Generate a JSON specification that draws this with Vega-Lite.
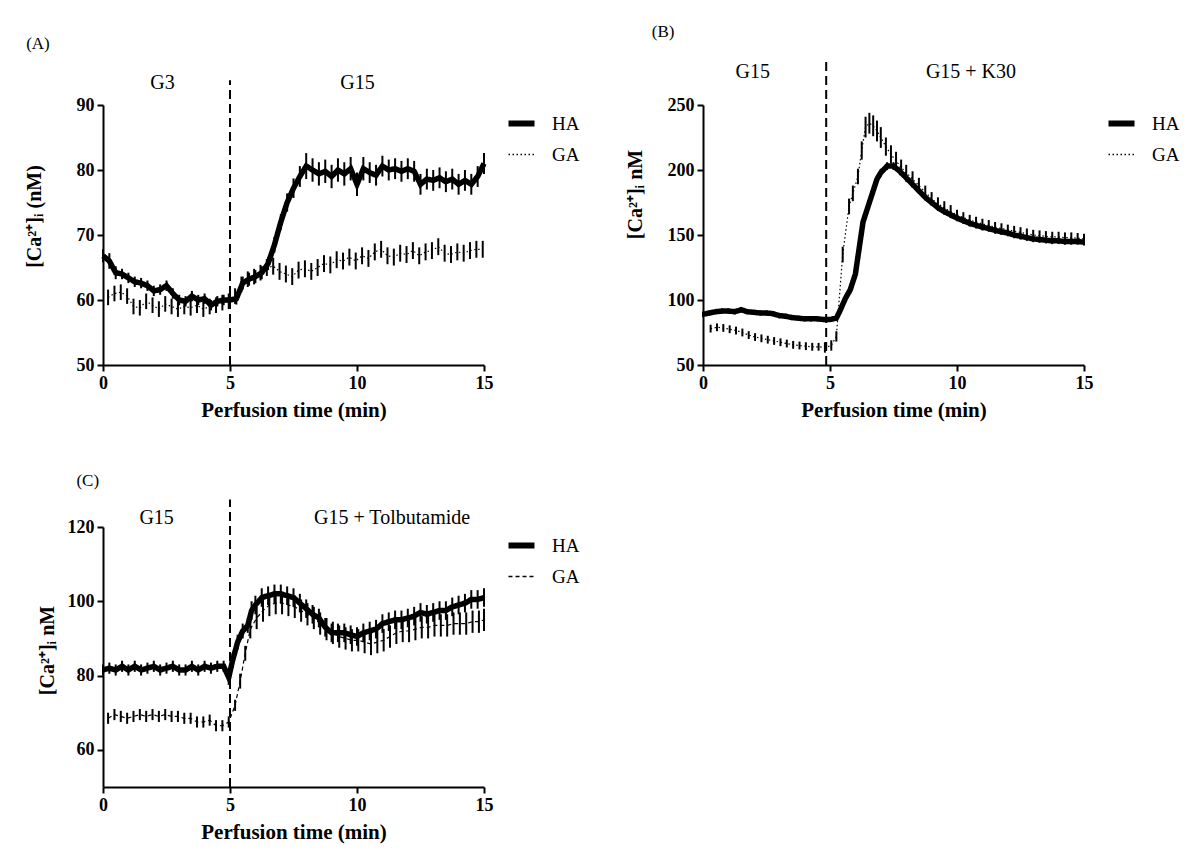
{
  "$schema": "https://vega.github.io/schema/vega-lite/v6.json",
  "background": "white",
  "padding": {"left": 24, "top": 23, "right": 5, "bottom": 5},
  "config": {
    "view": {"stroke": null},
    "font": "Liberation Serif",
    "axis": {"domainColor": "black", "domainWidth": 2, "tickColor": "black", "tickWidth": 2, "tickSize": 6, "labelFont": "Liberation Serif", "labelFontSize": 18, "labelFontWeight": "bold", "labelColor": "black", "labelPadding": 3, "labelFlush": false, "titleFont": "Liberation Serif", "titleFontSize": 21, "titleFontWeight": "bold", "titleColor": "black", "grid": false},
    "axisY": {"titleFontSize": 20},
    "text": {"font": "Liberation Serif", "fontSize": 20, "color": "black"},
    "legend": {"orient": "none", "legendX": 409, "legendY": 9, "symbolType": "stroke", "symbolSize": 676, "symbolStrokeColor": "black", "symbolStrokeWidth": 1.5, "labelFont": "Liberation Serif", "labelFontSize": 19, "labelColor": "black", "labelOffset": 21, "rowPadding": 9}
  },
  "datasets": {
    "A": [
      {"s":"HA","t":0,"m":66.8,"e":1.0},{"s":"HA","t":0.25,"m":66.0,"e":1.2},{"s":"HA","t":0.5,"m":64.2,"e":1.0},{"s":"HA","t":0.75,"m":64.0,"e":0.8},{"s":"HA","t":1,"m":63.4,"e":0.8},{"s":"HA","t":1.25,"m":62.8,"e":0.8},{"s":"HA","t":1.5,"m":62.6,"e":0.8},{"s":"HA","t":1.75,"m":62.2,"e":0.8},{"s":"HA","t":2,"m":61.4,"e":0.8},{"s":"HA","t":2.25,"m":61.6,"e":0.8},{"s":"HA","t":2.5,"m":62.2,"e":0.8},{"s":"HA","t":2.75,"m":61.0,"e":0.8},{"s":"HA","t":3,"m":60.0,"e":0.8},{"s":"HA","t":3.25,"m":59.8,"e":0.8},{"s":"HA","t":3.5,"m":60.6,"e":0.8},{"s":"HA","t":3.75,"m":60.0,"e":0.8},{"s":"HA","t":4,"m":60.2,"e":0.8},{"s":"HA","t":4.25,"m":59.2,"e":0.8},{"s":"HA","t":4.5,"m":59.8,"e":0.8},{"s":"HA","t":4.75,"m":60.0,"e":0.8},{"s":"HA","t":5,"m":60.0,"e":0.9},{"s":"HA","t":5.25,"m":60.2,"e":0.9},{"s":"HA","t":5.5,"m":62.6,"e":1.0},{"s":"HA","t":5.75,"m":63.2,"e":1.0},{"s":"HA","t":6,"m":63.6,"e":1.0},{"s":"HA","t":6.25,"m":64.2,"e":1.0},{"s":"HA","t":6.5,"m":65.6,"e":1.0},{"s":"HA","t":6.75,"m":68.5,"e":1.2},{"s":"HA","t":7,"m":72.0,"e":1.2},{"s":"HA","t":7.25,"m":75.0,"e":1.4},{"s":"HA","t":7.5,"m":77.2,"e":1.5},{"s":"HA","t":7.75,"m":79.0,"e":1.6},{"s":"HA","t":8,"m":80.6,"e":2.0},{"s":"HA","t":8.25,"m":80.0,"e":1.8},{"s":"HA","t":8.5,"m":79.4,"e":1.8},{"s":"HA","t":8.75,"m":79.8,"e":1.8},{"s":"HA","t":9,"m":79.0,"e":1.8},{"s":"HA","t":9.25,"m":80.0,"e":1.8},{"s":"HA","t":9.5,"m":79.4,"e":1.8},{"s":"HA","t":9.75,"m":80.2,"e":1.8},{"s":"HA","t":10,"m":77.8,"e":1.8},{"s":"HA","t":10.25,"m":80.2,"e":1.8},{"s":"HA","t":10.5,"m":79.6,"e":1.6},{"s":"HA","t":10.75,"m":79.2,"e":1.6},{"s":"HA","t":11,"m":80.6,"e":1.6},{"s":"HA","t":11.25,"m":80.0,"e":1.6},{"s":"HA","t":11.5,"m":80.2,"e":1.6},{"s":"HA","t":11.75,"m":79.8,"e":1.6},{"s":"HA","t":12,"m":80.2,"e":1.6},{"s":"HA","t":12.25,"m":79.8,"e":1.6},{"s":"HA","t":12.5,"m":77.8,"e":1.6},{"s":"HA","t":12.75,"m":78.6,"e":1.6},{"s":"HA","t":13,"m":78.4,"e":1.6},{"s":"HA","t":13.25,"m":78.8,"e":1.6},{"s":"HA","t":13.5,"m":78.2,"e":1.6},{"s":"HA","t":13.75,"m":78.6,"e":1.6},{"s":"HA","t":14,"m":77.8,"e":1.6},{"s":"HA","t":14.25,"m":78.4,"e":1.6},{"s":"HA","t":14.5,"m":77.8,"e":1.6},{"s":"HA","t":14.75,"m":79.0,"e":1.6},{"s":"HA","t":15,"m":81.0,"e":1.6},
      {"s":"GA","t":0.2,"m":60.4,"e":1.2},{"s":"GA","t":0.45,"m":61.0,"e":1.2},{"s":"GA","t":0.7,"m":61.2,"e":1.2},{"s":"GA","t":0.95,"m":60.6,"e":1.2},{"s":"GA","t":1.2,"m":59.0,"e":1.2},{"s":"GA","t":1.45,"m":58.8,"e":1.2},{"s":"GA","t":1.7,"m":59.8,"e":1.2},{"s":"GA","t":1.95,"m":59.2,"e":1.2},{"s":"GA","t":2.2,"m":58.6,"e":1.2},{"s":"GA","t":2.45,"m":59.4,"e":1.2},{"s":"GA","t":2.7,"m":59.0,"e":1.2},{"s":"GA","t":2.95,"m":58.6,"e":1.2},{"s":"GA","t":3.2,"m":59.0,"e":1.2},{"s":"GA","t":3.45,"m":58.8,"e":1.2},{"s":"GA","t":3.7,"m":59.2,"e":1.2},{"s":"GA","t":3.95,"m":58.6,"e":1.2},{"s":"GA","t":4.2,"m":59.0,"e":1.2},{"s":"GA","t":4.45,"m":59.2,"e":1.2},{"s":"GA","t":4.7,"m":59.6,"e":1.2},{"s":"GA","t":4.95,"m":59.8,"e":1.2},{"s":"GA","t":5.2,"m":60.6,"e":1.2},{"s":"GA","t":5.45,"m":62.4,"e":1.2},{"s":"GA","t":5.7,"m":63.2,"e":1.2},{"s":"GA","t":5.95,"m":63.6,"e":1.2},{"s":"GA","t":6.2,"m":64.2,"e":1.2},{"s":"GA","t":6.45,"m":65.0,"e":1.3},{"s":"GA","t":6.7,"m":65.2,"e":1.3},{"s":"GA","t":6.95,"m":64.4,"e":1.3},{"s":"GA","t":7.2,"m":64.0,"e":1.3},{"s":"GA","t":7.45,"m":63.6,"e":1.3},{"s":"GA","t":7.7,"m":64.6,"e":1.3},{"s":"GA","t":7.95,"m":64.8,"e":1.3},{"s":"GA","t":8.2,"m":64.4,"e":1.3},{"s":"GA","t":8.45,"m":65.0,"e":1.3},{"s":"GA","t":8.7,"m":65.6,"e":1.3},{"s":"GA","t":8.95,"m":65.4,"e":1.3},{"s":"GA","t":9.2,"m":66.2,"e":1.3},{"s":"GA","t":9.45,"m":66.0,"e":1.3},{"s":"GA","t":9.7,"m":66.6,"e":1.3},{"s":"GA","t":9.95,"m":66.0,"e":1.3},{"s":"GA","t":10.2,"m":66.8,"e":1.3},{"s":"GA","t":10.45,"m":66.4,"e":1.3},{"s":"GA","t":10.7,"m":67.4,"e":1.3},{"s":"GA","t":10.95,"m":67.8,"e":1.3},{"s":"GA","t":11.2,"m":66.8,"e":1.3},{"s":"GA","t":11.45,"m":66.6,"e":1.3},{"s":"GA","t":11.7,"m":67.2,"e":1.3},{"s":"GA","t":11.95,"m":67.0,"e":1.3},{"s":"GA","t":12.2,"m":67.6,"e":1.3},{"s":"GA","t":12.45,"m":66.8,"e":1.3},{"s":"GA","t":12.7,"m":67.4,"e":1.3},{"s":"GA","t":12.95,"m":67.6,"e":1.3},{"s":"GA","t":13.2,"m":68.2,"e":1.3},{"s":"GA","t":13.45,"m":67.2,"e":1.3},{"s":"GA","t":13.7,"m":67.0,"e":1.3},{"s":"GA","t":13.95,"m":67.4,"e":1.3},{"s":"GA","t":14.2,"m":67.2,"e":1.3},{"s":"GA","t":14.45,"m":67.6,"e":1.3},{"s":"GA","t":14.7,"m":67.8,"e":1.3},{"s":"GA","t":14.95,"m":67.8,"e":1.3}
    ],
    "B": [
      {"s":"HA","t":0,"m":89,"e":2},{"s":"HA","t":0.25,"m":90,"e":2},{"s":"HA","t":0.5,"m":91,"e":2},{"s":"HA","t":0.75,"m":91.5,"e":2},{"s":"HA","t":1,"m":91.5,"e":2},{"s":"HA","t":1.25,"m":91,"e":2},{"s":"HA","t":1.5,"m":92.5,"e":2},{"s":"HA","t":1.75,"m":91,"e":2},{"s":"HA","t":2,"m":90.5,"e":2},{"s":"HA","t":2.25,"m":90,"e":2},{"s":"HA","t":2.5,"m":90,"e":2},{"s":"HA","t":2.75,"m":89.5,"e":2},{"s":"HA","t":3,"m":88,"e":2},{"s":"HA","t":3.25,"m":87.5,"e":2},{"s":"HA","t":3.5,"m":86.5,"e":2},{"s":"HA","t":3.75,"m":86,"e":2},{"s":"HA","t":4,"m":85.5,"e":2},{"s":"HA","t":4.25,"m":85.5,"e":2},{"s":"HA","t":4.5,"m":85.5,"e":2},{"s":"HA","t":4.75,"m":85,"e":2},{"s":"HA","t":5,"m":85,"e":2},{"s":"HA","t":5.25,"m":86,"e":2},{"s":"HA","t":5.4,"m":92,"e":3},{"s":"HA","t":5.6,"m":101,"e":3},{"s":"HA","t":5.8,"m":108,"e":3},{"s":"HA","t":6,"m":120,"e":3},{"s":"HA","t":6.15,"m":140,"e":3},{"s":"HA","t":6.3,"m":160,"e":3},{"s":"HA","t":6.45,"m":169,"e":3},{"s":"HA","t":6.6,"m":178,"e":3},{"s":"HA","t":6.85,"m":193,"e":3},{"s":"HA","t":7,"m":198,"e":3},{"s":"HA","t":7.25,"m":203,"e":3},{"s":"HA","t":7.5,"m":203,"e":3},{"s":"HA","t":7.75,"m":199,"e":3},{"s":"HA","t":8,"m":194,"e":3},{"s":"HA","t":8.25,"m":189,"e":2.5},{"s":"HA","t":8.5,"m":184,"e":2.5},{"s":"HA","t":8.75,"m":179,"e":2.5},{"s":"HA","t":9,"m":175,"e":2.5},{"s":"HA","t":9.25,"m":171,"e":2.5},{"s":"HA","t":9.5,"m":168,"e":2.5},{"s":"HA","t":9.75,"m":165.5,"e":2.5},{"s":"HA","t":10,"m":163,"e":2.5},{"s":"HA","t":10.25,"m":161,"e":2.5},{"s":"HA","t":10.5,"m":159,"e":2.5},{"s":"HA","t":10.75,"m":157.5,"e":2.5},{"s":"HA","t":11,"m":156,"e":2.5},{"s":"HA","t":11.25,"m":155,"e":2.5},{"s":"HA","t":11.5,"m":153.5,"e":2.5},{"s":"HA","t":11.75,"m":152.5,"e":2.5},{"s":"HA","t":12,"m":151.5,"e":2.5},{"s":"HA","t":12.25,"m":150,"e":2.5},{"s":"HA","t":12.5,"m":149,"e":2.5},{"s":"HA","t":12.75,"m":148,"e":2.5},{"s":"HA","t":13,"m":147,"e":2.5},{"s":"HA","t":13.25,"m":146.5,"e":2.5},{"s":"HA","t":13.5,"m":146,"e":2.5},{"s":"HA","t":13.75,"m":145.5,"e":2.5},{"s":"HA","t":14,"m":145.5,"e":2.5},{"s":"HA","t":14.25,"m":145,"e":2.5},{"s":"HA","t":14.5,"m":145,"e":2.5},{"s":"HA","t":14.75,"m":145,"e":2.5},{"s":"HA","t":15,"m":144.5,"e":2.5},
      {"s":"GA","t":0.3,"m":78,"e":3},{"s":"GA","t":0.55,"m":79,"e":3},{"s":"GA","t":0.8,"m":78.5,"e":3},{"s":"GA","t":1.05,"m":77.5,"e":3},{"s":"GA","t":1.3,"m":76.5,"e":3},{"s":"GA","t":1.55,"m":75,"e":3},{"s":"GA","t":1.8,"m":73,"e":3},{"s":"GA","t":2.05,"m":71.5,"e":3},{"s":"GA","t":2.3,"m":70.5,"e":3},{"s":"GA","t":2.55,"m":69.5,"e":3},{"s":"GA","t":2.8,"m":68.5,"e":3},{"s":"GA","t":3.05,"m":67.5,"e":3},{"s":"GA","t":3.3,"m":66.5,"e":3},{"s":"GA","t":3.55,"m":65.5,"e":3},{"s":"GA","t":3.8,"m":65,"e":3},{"s":"GA","t":4.05,"m":64.5,"e":3},{"s":"GA","t":4.3,"m":64,"e":3},{"s":"GA","t":4.55,"m":64,"e":3},{"s":"GA","t":4.8,"m":63.5,"e":4},{"s":"GA","t":5.05,"m":65,"e":4},{"s":"GA","t":5.25,"m":72,"e":4},{"s":"GA","t":5.5,"m":135,"e":6},{"s":"GA","t":5.75,"m":172,"e":6},{"s":"GA","t":5.9,"m":182,"e":6},{"s":"GA","t":6.1,"m":195,"e":6},{"s":"GA","t":6.25,"m":215,"e":7},{"s":"GA","t":6.4,"m":233,"e":8},{"s":"GA","t":6.55,"m":236,"e":8},{"s":"GA","t":6.7,"m":234,"e":8},{"s":"GA","t":6.85,"m":230,"e":8},{"s":"GA","t":7,"m":225,"e":8},{"s":"GA","t":7.2,"m":218,"e":7},{"s":"GA","t":7.4,"m":212,"e":7},{"s":"GA","t":7.6,"m":207,"e":7},{"s":"GA","t":7.8,"m":202,"e":6},{"s":"GA","t":8,"m":198,"e":6},{"s":"GA","t":8.25,"m":193,"e":6},{"s":"GA","t":8.5,"m":188,"e":6},{"s":"GA","t":8.75,"m":183,"e":5},{"s":"GA","t":9,"m":178,"e":5},{"s":"GA","t":9.25,"m":174,"e":5},{"s":"GA","t":9.5,"m":171,"e":5},{"s":"GA","t":9.75,"m":168,"e":5},{"s":"GA","t":10,"m":165.5,"e":4},{"s":"GA","t":10.25,"m":163.5,"e":4},{"s":"GA","t":10.5,"m":161.5,"e":4},{"s":"GA","t":10.75,"m":160,"e":4},{"s":"GA","t":11,"m":158.5,"e":4},{"s":"GA","t":11.25,"m":157.5,"e":4},{"s":"GA","t":11.5,"m":156,"e":4},{"s":"GA","t":11.75,"m":155,"e":4},{"s":"GA","t":12,"m":154,"e":4},{"s":"GA","t":12.25,"m":153,"e":4},{"s":"GA","t":12.5,"m":152,"e":4},{"s":"GA","t":12.75,"m":151,"e":4},{"s":"GA","t":13,"m":150,"e":4},{"s":"GA","t":13.25,"m":149.5,"e":4},{"s":"GA","t":13.5,"m":149,"e":4},{"s":"GA","t":13.75,"m":148.5,"e":4},{"s":"GA","t":14,"m":148.5,"e":4},{"s":"GA","t":14.25,"m":148,"e":4},{"s":"GA","t":14.5,"m":148,"e":4},{"s":"GA","t":14.75,"m":147.5,"e":4},{"s":"GA","t":15,"m":147,"e":4}
    ],
    "C": [
      {"s":"HA","t":0,"m":81.5,"e":1.5},{"s":"HA","t":0.25,"m":82,"e":1.5},{"s":"HA","t":0.5,"m":81.5,"e":1.5},{"s":"HA","t":0.75,"m":82.5,"e":1.5},{"s":"HA","t":1,"m":81.5,"e":1.5},{"s":"HA","t":1.25,"m":82.5,"e":1.5},{"s":"HA","t":1.5,"m":81.5,"e":1.5},{"s":"HA","t":1.75,"m":82,"e":1.5},{"s":"HA","t":2,"m":82.5,"e":1.5},{"s":"HA","t":2.25,"m":81.5,"e":1.5},{"s":"HA","t":2.5,"m":82,"e":1.5},{"s":"HA","t":2.75,"m":82.5,"e":1.5},{"s":"HA","t":3,"m":81.5,"e":1.5},{"s":"HA","t":3.25,"m":81.5,"e":1.5},{"s":"HA","t":3.5,"m":82.5,"e":1.5},{"s":"HA","t":3.75,"m":81.5,"e":1.5},{"s":"HA","t":4,"m":82.5,"e":1.5},{"s":"HA","t":4.25,"m":82,"e":1.5},{"s":"HA","t":4.5,"m":82.5,"e":1.5},{"s":"HA","t":4.75,"m":82.5,"e":1.5},{"s":"HA","t":4.95,"m":79.5,"e":2},{"s":"HA","t":5.1,"m":84,"e":2},{"s":"HA","t":5.3,"m":89,"e":2},{"s":"HA","t":5.5,"m":92,"e":2},{"s":"HA","t":5.7,"m":93.5,"e":2},{"s":"HA","t":5.85,"m":97.5,"e":2.5},{"s":"HA","t":6,"m":99,"e":2.5},{"s":"HA","t":6.25,"m":101,"e":2.5},{"s":"HA","t":6.5,"m":101.5,"e":2.5},{"s":"HA","t":6.75,"m":102,"e":2.5},{"s":"HA","t":7,"m":102,"e":2.5},{"s":"HA","t":7.25,"m":101.5,"e":2.5},{"s":"HA","t":7.5,"m":101,"e":2.5},{"s":"HA","t":7.75,"m":99.5,"e":2.5},{"s":"HA","t":8,"m":98,"e":2.5},{"s":"HA","t":8.25,"m":96.5,"e":2.5},{"s":"HA","t":8.5,"m":95.5,"e":2.5},{"s":"HA","t":8.75,"m":93,"e":2.5},{"s":"HA","t":9,"m":91.5,"e":2.5},{"s":"HA","t":9.25,"m":91.5,"e":2.5},{"s":"HA","t":9.5,"m":91.5,"e":2.5},{"s":"HA","t":9.75,"m":91,"e":2.5},{"s":"HA","t":10,"m":90.5,"e":2.5},{"s":"HA","t":10.25,"m":91.5,"e":2.5},{"s":"HA","t":10.5,"m":92,"e":2.5},{"s":"HA","t":10.75,"m":92.5,"e":2.5},{"s":"HA","t":11,"m":94,"e":2.5},{"s":"HA","t":11.25,"m":94.5,"e":2.5},{"s":"HA","t":11.5,"m":95,"e":2.5},{"s":"HA","t":11.75,"m":95,"e":2.5},{"s":"HA","t":12,"m":95.5,"e":2.5},{"s":"HA","t":12.25,"m":96,"e":2.5},{"s":"HA","t":12.5,"m":97,"e":2.5},{"s":"HA","t":12.75,"m":96.5,"e":2.5},{"s":"HA","t":13,"m":97,"e":2.5},{"s":"HA","t":13.25,"m":97.5,"e":2.5},{"s":"HA","t":13.5,"m":97.5,"e":2.5},{"s":"HA","t":13.75,"m":98.5,"e":2.5},{"s":"HA","t":14,"m":99,"e":2.5},{"s":"HA","t":14.25,"m":99.5,"e":2.5},{"s":"HA","t":14.5,"m":100.5,"e":2.5},{"s":"HA","t":14.75,"m":100.5,"e":2.5},{"s":"HA","t":15,"m":101,"e":2.5},
      {"s":"GA","t":0.2,"m":68.5,"e":1.5},{"s":"GA","t":0.45,"m":69.5,"e":1.5},{"s":"GA","t":0.7,"m":69,"e":1.5},{"s":"GA","t":0.95,"m":68.5,"e":1.5},{"s":"GA","t":1.2,"m":69,"e":1.5},{"s":"GA","t":1.45,"m":69.5,"e":1.5},{"s":"GA","t":1.7,"m":69,"e":1.5},{"s":"GA","t":1.95,"m":69.5,"e":1.5},{"s":"GA","t":2.2,"m":69,"e":1.5},{"s":"GA","t":2.45,"m":69.5,"e":1.5},{"s":"GA","t":2.7,"m":69,"e":1.5},{"s":"GA","t":2.95,"m":69,"e":1.5},{"s":"GA","t":3.2,"m":68.5,"e":1.5},{"s":"GA","t":3.45,"m":68.5,"e":1.5},{"s":"GA","t":3.7,"m":67.5,"e":1.5},{"s":"GA","t":3.95,"m":67.5,"e":1.5},{"s":"GA","t":4.2,"m":68,"e":1.5},{"s":"GA","t":4.45,"m":66.5,"e":1.5},{"s":"GA","t":4.7,"m":66.5,"e":1.5},{"s":"GA","t":4.95,"m":67.5,"e":1.5},{"s":"GA","t":5.2,"m":72,"e":1.5},{"s":"GA","t":5.4,"m":78.5,"e":2},{"s":"GA","t":5.6,"m":86,"e":2},{"s":"GA","t":5.8,"m":92.5,"e":2.5},{"s":"GA","t":6.05,"m":95.5,"e":3},{"s":"GA","t":6.3,"m":97.5,"e":3},{"s":"GA","t":6.55,"m":99,"e":3},{"s":"GA","t":6.8,"m":99.5,"e":3},{"s":"GA","t":7.05,"m":99.5,"e":3},{"s":"GA","t":7.3,"m":99,"e":3},{"s":"GA","t":7.55,"m":98.5,"e":3},{"s":"GA","t":7.8,"m":97.5,"e":3},{"s":"GA","t":8.05,"m":96.5,"e":3},{"s":"GA","t":8.3,"m":95.5,"e":3},{"s":"GA","t":8.55,"m":94,"e":3},{"s":"GA","t":8.8,"m":92.5,"e":3},{"s":"GA","t":9.05,"m":91.5,"e":3},{"s":"GA","t":9.3,"m":90.5,"e":3},{"s":"GA","t":9.55,"m":90,"e":3},{"s":"GA","t":9.8,"m":89.5,"e":3},{"s":"GA","t":10.05,"m":89.5,"e":3},{"s":"GA","t":10.3,"m":89,"e":3},{"s":"GA","t":10.55,"m":88.5,"e":3},{"s":"GA","t":10.8,"m":89,"e":3},{"s":"GA","t":11.05,"m":89.5,"e":3},{"s":"GA","t":11.3,"m":90.5,"e":3},{"s":"GA","t":11.55,"m":91.5,"e":3},{"s":"GA","t":11.8,"m":92,"e":3},{"s":"GA","t":12.05,"m":92,"e":3},{"s":"GA","t":12.3,"m":92.5,"e":3},{"s":"GA","t":12.55,"m":93,"e":3},{"s":"GA","t":12.8,"m":93,"e":3},{"s":"GA","t":13.05,"m":93.5,"e":3},{"s":"GA","t":13.3,"m":93.5,"e":3},{"s":"GA","t":13.55,"m":93.5,"e":3},{"s":"GA","t":13.8,"m":94,"e":3},{"s":"GA","t":14.05,"m":94,"e":3},{"s":"GA","t":14.3,"m":94,"e":3},{"s":"GA","t":14.55,"m":94.5,"e":3},{"s":"GA","t":14.8,"m":94.5,"e":3},{"s":"GA","t":15,"m":95,"e":3}
    ]
  },
  "bounds": "flush",
  "columns": 2,
  "spacing": {"row": 162, "column": 219},
  "resolve": {"scale": {"x": "independent", "y": "independent", "strokeDash": "independent"}, "legend": {"strokeDash": "independent"}},
  "concat": [
    {
      "width": 381, "height": 260,
      "data": {"name": "A"},
      "layer": [
        {"data": {"values": [{}]}, "mark": {"type": "rule", "strokeDash": [9, 5], "strokeWidth": 2, "color": "black"}, "encoding": {"x": {"datum": 5, "type": "quantitative"}, "y": {"datum": 50, "type": "quantitative"}, "y2": {"datum": 93.8}}},
        {"mark": {"type": "errorbar", "color": "black", "thickness": 2}, "encoding": {"x": {"field": "t", "type": "quantitative", "title": "Perfusion time (min)"}, "y": {"field": "m", "type": "quantitative", "title": "[Ca²⁺]ᵢ (nM)"}, "yError": {"field": "e"}}},
        {"transform": [{"filter": "datum.s === 'GA'"}], "mark": {"type": "line", "color": "black", "strokeWidth": 1.2}, "encoding": {"x": {"field": "t", "type": "quantitative", "title": "Perfusion time (min)"}, "y": {"field": "m", "type": "quantitative", "title": "[Ca²⁺]ᵢ (nM)"}, "strokeDash": {"field": "s", "type": "nominal", "scale": {"domain": ["HA", "GA"], "range": [[1, 0], [1.5, 2.5]]}, "legend": {"title": null, "encode": {"symbols": {"update": {"strokeWidth": {"signal": "datum.value === 'HA' ? 6 : 1.5"}}}}}}}},
        {"transform": [{"filter": "datum.s === 'HA'"}], "mark": {"type": "line", "color": "black", "strokeWidth": 5.5}, "encoding": {"x": {"field": "t", "type": "quantitative", "title": "Perfusion time (min)", "scale": {"domain": [0, 15], "nice": false}, "axis": {"values": [0, 5, 10, 15], "titlePadding": 7}}, "y": {"field": "m", "type": "quantitative", "title": "[Ca²⁺]ᵢ (nM)", "scale": {"domain": [50, 90], "nice": false, "zero": false}, "axis": {"values": [50, 60, 70, 80, 90], "titleX": -59, "titleY": 111}}, "strokeDash": {"field": "s", "type": "nominal"}}},
        {"data": {"values": [{}]}, "mark": {"type": "text"}, "encoding": {"x": {"datum": 2.34, "type": "quantitative"}, "y": {"datum": 93.4, "type": "quantitative"}, "text": {"value": "G3"}}},
        {"data": {"values": [{}]}, "mark": {"type": "text"}, "encoding": {"x": {"datum": 10.02, "type": "quantitative"}, "y": {"datum": 93.4, "type": "quantitative"}, "text": {"value": "G15"}}},
        {"data": {"values": [{}]}, "mark": {"type": "text", "fontSize": 17}, "encoding": {"x": {"datum": -2.56, "type": "quantitative"}, "y": {"datum": 99.4, "type": "quantitative"}, "text": {"value": "(A)"}}}
      ]
    },
    {
      "width": 381, "height": 260,
      "data": {"name": "B"},
      "layer": [
        {"data": {"values": [{}]}, "mark": {"type": "rule", "strokeDash": [9, 5], "strokeWidth": 2, "color": "black"}, "encoding": {"x": {"datum": 4.85, "type": "quantitative"}, "y": {"datum": 50, "type": "quantitative"}, "y2": {"datum": 284}}},
        {"mark": {"type": "errorbar", "color": "black", "thickness": 2}, "encoding": {"x": {"field": "t", "type": "quantitative", "title": "Perfusion time (min)"}, "y": {"field": "m", "type": "quantitative", "title": "[Ca²⁺]ᵢ nM"}, "yError": {"field": "e"}}},
        {"transform": [{"filter": "datum.s === 'GA'"}], "mark": {"type": "line", "color": "black", "strokeWidth": 1.2}, "encoding": {"x": {"field": "t", "type": "quantitative", "title": "Perfusion time (min)"}, "y": {"field": "m", "type": "quantitative", "title": "[Ca²⁺]ᵢ nM"}, "strokeDash": {"field": "s", "type": "nominal", "scale": {"domain": ["HA", "GA"], "range": [[1, 0], [1.5, 2.5]]}, "legend": {"title": null, "encode": {"symbols": {"update": {"strokeWidth": {"signal": "datum.value === 'HA' ? 6 : 1.5"}}}}}}}},
        {"transform": [{"filter": "datum.s === 'HA'"}], "mark": {"type": "line", "color": "black", "strokeWidth": 5.5}, "encoding": {"x": {"field": "t", "type": "quantitative", "title": "Perfusion time (min)", "scale": {"domain": [0, 15], "nice": false}, "axis": {"values": [0, 5, 10, 15], "titlePadding": 7}}, "y": {"field": "m", "type": "quantitative", "title": "[Ca²⁺]ᵢ nM", "scale": {"domain": [50, 250], "nice": false, "zero": false}, "axis": {"values": [50, 100, 150, 200, 250], "titleX": -58, "titleY": 89}}, "strokeDash": {"field": "s", "type": "nominal"}}},
        {"data": {"values": [{}]}, "mark": {"type": "text"}, "encoding": {"x": {"datum": 1.96, "type": "quantitative"}, "y": {"datum": 275.7, "type": "quantitative"}, "text": {"value": "G15"}}},
        {"data": {"values": [{}]}, "mark": {"type": "text"}, "encoding": {"x": {"datum": 10.55, "type": "quantitative"}, "y": {"datum": 275.7, "type": "quantitative"}, "text": {"value": "G15 + K30"}}},
        {"data": {"values": [{}]}, "mark": {"type": "text", "fontSize": 17}, "encoding": {"x": {"datum": -1.57, "type": "quantitative"}, "y": {"datum": 306, "type": "quantitative"}, "text": {"value": "(B)"}}}
      ]
    },
    {
      "width": 381, "height": 260,
      "data": {"name": "C"},
      "layer": [
        {"data": {"values": [{}]}, "mark": {"type": "rule", "strokeDash": [9, 5], "strokeWidth": 2, "color": "black"}, "encoding": {"x": {"datum": 5, "type": "quantitative"}, "y": {"datum": 50, "type": "quantitative"}, "y2": {"datum": 127.4}}},
        {"mark": {"type": "errorbar", "color": "black", "thickness": 2}, "encoding": {"x": {"field": "t", "type": "quantitative", "title": "Perfusion time (min)"}, "y": {"field": "m", "type": "quantitative", "title": "[Ca²⁺]ᵢ nM"}, "yError": {"field": "e"}}},
        {"transform": [{"filter": "datum.s === 'GA'"}], "mark": {"type": "line", "color": "black", "strokeWidth": 1.2}, "encoding": {"x": {"field": "t", "type": "quantitative", "title": "Perfusion time (min)"}, "y": {"field": "m", "type": "quantitative", "title": "[Ca²⁺]ᵢ nM"}, "strokeDash": {"field": "s", "type": "nominal", "scale": {"domain": ["HA", "GA"], "range": [[1, 0], [4, 3]]}, "legend": {"title": null, "encode": {"symbols": {"update": {"strokeWidth": {"signal": "datum.value === 'HA' ? 6 : 1.5"}}}}}}}},
        {"transform": [{"filter": "datum.s === 'HA'"}], "mark": {"type": "line", "color": "black", "strokeWidth": 5.5}, "encoding": {"x": {"field": "t", "type": "quantitative", "title": "Perfusion time (min)", "scale": {"domain": [0, 15], "nice": false}, "axis": {"values": [0, 5, 10, 15], "titlePadding": 7}}, "y": {"field": "m", "type": "quantitative", "title": "[Ca²⁺]ᵢ nM", "scale": {"domain": [50, 120], "nice": false, "zero": false}, "axis": {"values": [60, 80, 100, 120], "titleX": -46, "titleY": 123}}, "strokeDash": {"field": "s", "type": "nominal"}}},
        {"data": {"values": [{}]}, "mark": {"type": "text"}, "encoding": {"x": {"datum": 2.11, "type": "quantitative"}, "y": {"datum": 122.4, "type": "quantitative"}, "text": {"value": "G15"}}},
        {"data": {"values": [{}]}, "mark": {"type": "text"}, "encoding": {"x": {"datum": 11.38, "type": "quantitative"}, "y": {"datum": 122.4, "type": "quantitative"}, "text": {"value": "G15 + Tolbutamide"}}},
        {"data": {"values": [{}]}, "mark": {"type": "text", "fontSize": 17}, "encoding": {"x": {"datum": -0.6, "type": "quantitative"}, "y": {"datum": 132.3, "type": "quantitative"}, "text": {"value": "(C)"}}}
      ]
    }
  ]
}
